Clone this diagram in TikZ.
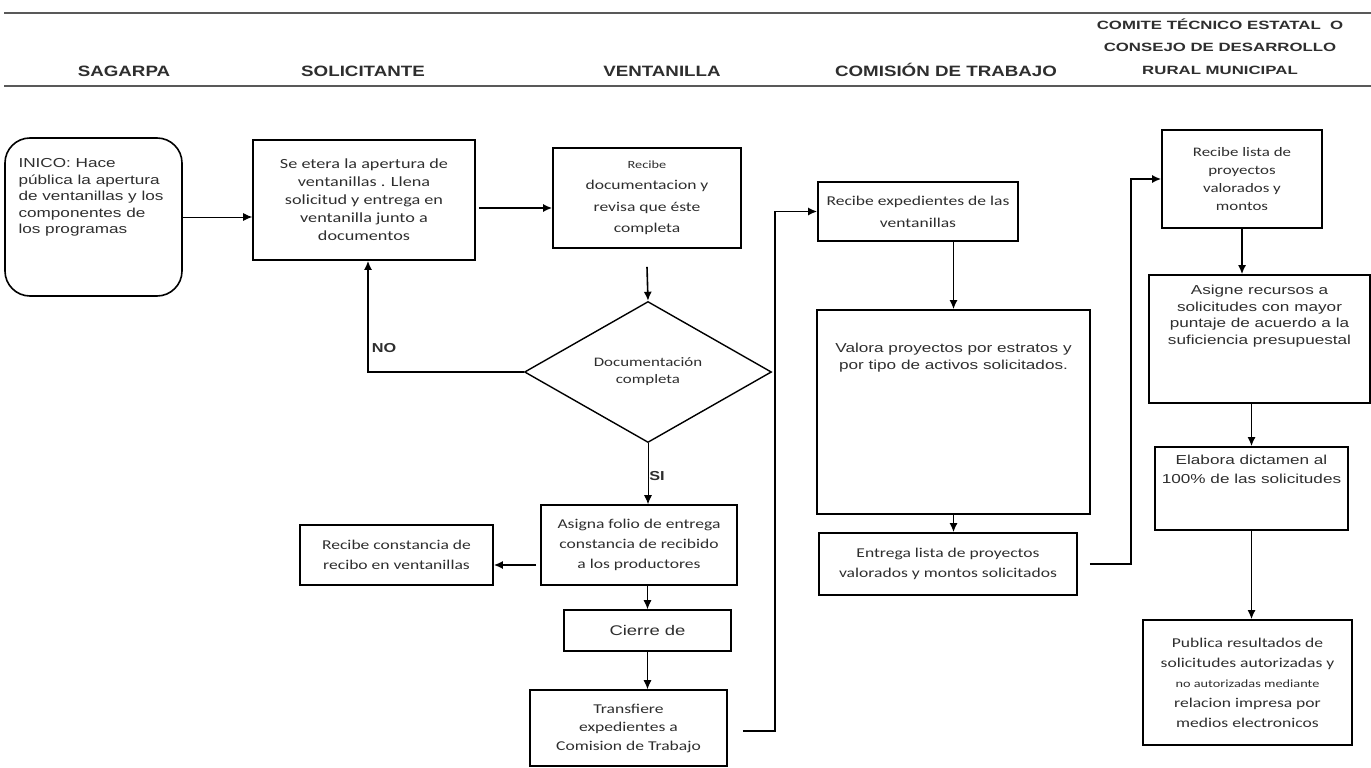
\documentclass[tikz,border=0pt]{standalone}
\usepackage{fontspec}
\setmainfont{Liberation Sans}
\newfontfamily\calfont[FakeStretch=1.3]{Carlito}
\newfontfamily\arialw[FakeStretch=1.32]{Liberation Sans}
\newfontfamily\hdrfont[FakeStretch=1.25]{Liberation Sans}
\newfontfamily\comfont[FakeStretch=1.4]{Liberation Sans}
\usetikzlibrary{shapes.geometric,arrows.meta}
\definecolor{ink}{gray}{0.18}
\begin{document}
\begin{tikzpicture}[x=1pt,y=-1pt,
  box/.style={draw=black,text=ink,line width=1.6pt,inner sep=2pt,align=center,font=\calfont\fontsize{13.5}{20}\selectfont},
  arr/.style={line width=1.6pt,-{Latex[length=9pt,width=8pt]}},
  hdr/.style={text=ink,font=\hdrfont\bfseries\fontsize{15}{17}\selectfont,anchor=base},
  lbl/.style={text=ink,font=\hdrfont\bfseries\fontsize{13}{15}\selectfont},
  wtext/.style={text=ink,align=center,font=\arialw\fontsize{13}{16.5}\selectfont}]
\useasboundingbox (0,0) rectangle (1371,768);
% header lines
\draw[line width=2pt,gray!70!black] (4,13) -- (1371,13);
\draw[line width=2pt,gray!70!black] (4,86) -- (1371,86);
\node[hdr] (h1) at (124,77) {SAGARPA};
\node[hdr] (h2) at (363,77) {SOLICITANTE};
\node[hdr] (h3) at (662,77) {VENTANILLA};
\node[hdr] (h4) at (946,77) {COMISIÓN DE TRABAJO};
\node[align=center,text=ink,font=\comfont\bfseries\fontsize{12}{22.5}\selectfont,anchor=north] (h5) at (1220,15) {COMITE TÉCNICO ESTATAL\ \ O\\CONSEJO DE DESARROLLO\\RURAL MUNICIPAL};
% nodes
\node[draw,line width=1.6pt,rounded corners=25pt,minimum width=177pt,minimum height=158pt] (inico) at (93.5,217) {};
\node[anchor=north west,align=left,text=ink,font=\arialw\fontsize{13}{16.5}\selectfont] (inicot) at (15,155) {INICO: Hace\\pública la apertura\\de ventanillas y los\\componentes de\\los programas};
\node[box,font=\calfont\fontsize{14}{18}\selectfont,minimum width=222pt,minimum height=120pt] (sol) at (364,200) {Se etera la apertura de\\ventanillas . Llena\\solicitud y entrega en\\ventanilla junto a\\documentos};
\node[box,font=\calfont\fontsize{13.5}{21.5}\selectfont,minimum width=188pt,minimum height=100pt] (vent) at (647,198) {{\fontsize{11}{11}\selectfont Recibe}\\documentacion y\\revisa que éste\\completa};
\node[draw,diamond,line width=1.4pt,minimum width=247pt,minimum height=141pt,inner sep=0pt,align=center,text=ink,font=\calfont\fontsize{13}{17}\selectfont] (dia) at (648,372) {Documentación\\completa};
\node[box,minimum width=196pt,minimum height=80pt] (asig) at (639,545) {Asigna folio de entrega\\constancia de recibido\\a los productores};
\node[box,minimum width=193pt,minimum height=60pt] (rec) at (396.5,555) {Recibe constancia de\\recibo en ventanillas};
\node[box,font=\arialw\fontsize{14}{15}\selectfont,minimum width=167pt,minimum height=41pt] (cie) at (647.5,630.5) {Cierre de};
\node[box,font=\calfont\fontsize{13.5}{18.5}\selectfont,minimum width=197pt,minimum height=76pt] (tra) at (628.5,728) {Transfiere\\expedientes a\\Comision de Trabajo};
\node[box,font=\calfont\fontsize{13.5}{22}\selectfont,minimum width=200pt,minimum height=59pt] (rexp) at (918,211.5) {Recibe expedientes de las\\ventanillas};
\node[draw,line width=1.6pt,minimum width=273pt,minimum height=204pt] (val) at (953.5,412) {};
\node[wtext,anchor=north] (valt) at (953.5,340) {Valora proyectos por estratos y\\por tipo de activos solicitados.};
\node[box,minimum width=258pt,minimum height=62pt] (ent) at (948,564) {Entrega lista de proyectos\\valorados y montos solicitados};
\node[box,font=\calfont\fontsize{13}{18}\selectfont,minimum width=160pt,minimum height=98pt] (rlis) at (1242,179) {Recibe lista de\\proyectos\\valorados y\\montos};
\node[draw,line width=1.6pt,minimum width=221pt,minimum height=128pt] (asg) at (1259.5,339) {};
\node[wtext,anchor=north] (asgt) at (1259.5,282) {Asigne recursos a\\solicitudes con mayor\\puntaje de acuerdo a la\\suficiencia presupuestal};
\node[draw,line width=1.6pt,minimum width=193pt,minimum height=83pt] (ela) at (1251.5,488.5) {};
\node[wtext,anchor=north,font=\arialw\fontsize{13}{19}\selectfont] (elat) at (1251.5,452) {Elabora dictamen al\\100\% de las solicitudes};
\node[box,minimum width=209pt,minimum height=125pt] (pub) at (1247.5,682.5) {Publica resultados de\\solicitudes autorizadas y\\{\fontsize{11}{11}\selectfont no autorizadas mediante}\\relacion impresa por\\medios electronicos};
% connectors
\draw[arr,line width=1pt] (inico.east) -- (sol.west |- inico.east);
\draw[arr] ([xshift=3pt,yshift=-8pt]sol.east) -- ([yshift=-10pt]vent.west);
\draw[arr] ([yshift=-18pt]vent.south) -- (dia.north);
\draw[arr] (dia.west) -| ([xshift=4pt]sol.south);
\node[lbl] (no) at (384,348) {NO};
\draw[arr,line width=1pt] (dia.south) -- (dia.south |- asig.north);
\node[lbl] (si) at (657,476) {SI};
\draw[arr] ([xshift=-4pt,yshift=-20pt]asig.west) -- ([yshift=-10pt]rec.east);
\draw[arr,line width=1pt] (cie.north |- asig.south) -- (cie.north);
\draw[arr,line width=1pt] (cie.south) -- (cie.south |- tra.north);
\coordinate (j1) at (775,211.5);
\draw[arr] ([xshift=15pt,yshift=-3pt]tra.east) -| (j1) -- (rexp.west);
\draw[arr] (val.north |- rexp.south) -- (val.north);
\draw[arr] (val.south) -- (val.south |- ent.north);
\coordinate (j2) at (1131,179);
\draw[arr] ([xshift=12pt]ent.east) -| (j2) -- (rlis.west);
\draw[arr] (rlis.south) -- (rlis.south |- asg.north);
\draw[arr] (ela.north |- asg.south) -- (ela.north);
\draw[arr] (ela.south) -- (ela.south |- pub.north);
\end{tikzpicture}
\end{document}
